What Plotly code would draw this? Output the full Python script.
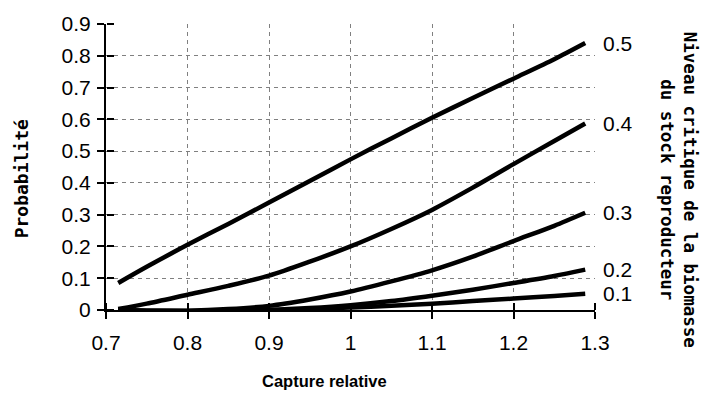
import plotly.graph_objects as go

capture = [0.715, 0.75, 0.8, 0.85, 0.9, 0.95, 1.0, 1.05, 1.1, 1.15, 1.2, 1.25, 1.288]
p_05 = [0.085, 0.136, 0.205, 0.271, 0.338, 0.406, 0.474, 0.54, 0.605, 0.667, 0.728, 0.789, 0.84]
p_04 = [0.003, 0.02, 0.048, 0.076, 0.108, 0.152, 0.2, 0.255, 0.315, 0.385, 0.459, 0.532, 0.587]
p_03 = [0.0, -0.002, -0.002, 0.003, 0.013, 0.033, 0.058, 0.09, 0.125, 0.168, 0.217, 0.265, 0.306]
p_02 = [0.0, -0.003, -0.004, -0.003, 0.0, 0.006, 0.015, 0.028, 0.045, 0.064, 0.085, 0.107, 0.127]
p_01 = [0.0, -0.002, -0.003, -0.003, -0.001, 0.003, 0.008, 0.013, 0.02, 0.028, 0.036, 0.044, 0.051]
levels = ["0.5", "0.4", "0.3", "0.2", "0.1"]
series = [p_05, p_04, p_03, p_02, p_01]
x_ticks = [0.7, 0.8, 0.9, 1.0, 1.1, 1.2, 1.3]
x_ticklabels = ["0.7", "0.8", "0.9", "1", "1.1", "1.2", "1.3"]
y_ticks = [0, 0.1, 0.2, 0.3, 0.4, 0.5, 0.6, 0.7, 0.8, 0.9]
y_ticklabels = ["0", "0.1", "0.2", "0.3", "0.4", "0.5", "0.6", "0.7", "0.8", "0.9"]

fig = go.Figure()
for lev, ys in zip(levels, series):
    fig.add_trace(go.Scatter(x=capture, y=ys, mode="lines", xaxis="x2", yaxis="y2",
                             line=dict(color="black", width=4.5, shape="spline", smoothing=0.8),
                             showlegend=False, hoverinfo="skip"))
    fig.add_annotation(x=1.3, y=ys[-1], xref="x", yref="y", text=lev, showarrow=False,
                       xanchor="left", yanchor="middle", xshift=6,
                       font=dict(family="Liberation Sans, Arial", size=21, color="black"))

tickfont = dict(family="Liberation Sans, Arial", size=21, color="black")
grid = dict(showgrid=True, gridcolor="#808080", gridwidth=1, griddash="4px,4px")
fig.update_layout(
    width=702, height=396,
    margin=dict(l=106, r=107, t=16, b=86),
    paper_bgcolor="white", plot_bgcolor="white",
    xaxis=dict(range=[0.7, 1.3], tickvals=x_ticks, ticktext=x_ticklabels, ticks="outside", ticklen=7,
               tickwidth=2, tickcolor="black", showline=True, linecolor="black", linewidth=2,
               zeroline=False, tickfont=tickfont, ticklabelstandoff=6, **grid),
    yaxis=dict(range=[0, 0.9], tickvals=y_ticks, ticktext=y_ticklabels, ticks="outside", ticklen=7,
               tickwidth=2, tickcolor="black", showline=True, linecolor="black", linewidth=2,
               zeroline=False, tickfont=tickfont, ticklabelstandoff=2, **grid),
    xaxis2=dict(range=[0.7, 1.3], tickvals=x_ticks, overlaying="x", anchor="free", position=0, side="top",
                ticks="outside", ticklen=7, tickwidth=2, tickcolor="black", showticklabels=False,
                showgrid=False, zeroline=False, showline=False),
    yaxis2=dict(range=[0, 0.9], tickvals=y_ticks, overlaying="y", anchor="free", position=0, side="right",
                ticks="outside", ticklen=7, tickwidth=2, tickcolor="black", showticklabels=False,
                showgrid=False, zeroline=False, showline=False),
)

fig.add_annotation(text="Probabilité", xref="paper", yref="paper", x=-0.172, y=0.46, textangle=-90,
                   showarrow=False, xanchor="center", yanchor="middle",
                   font=dict(family="DejaVu Sans Mono", size=18, color="black", weight="bold"))
fig.add_annotation(text="Capture relative", xref="paper", yref="paper", x=0.446, y=-0.248,
                   showarrow=False, xanchor="center", yanchor="middle",
                   font=dict(family="Liberation Sans, Arial", size=16.5, color="black", weight="bold"))
fig.add_annotation(text="Niveau critique de la biomasse<br>du stock reproducteur", xref="paper", yref="paper",
                   x=1.17, y=0.42, textangle=90, showarrow=False, xanchor="center", yanchor="middle",
                   font=dict(family="DejaVu Sans Mono", size=17.5, color="black", weight="bold"))

fig.write_html("out.html")
